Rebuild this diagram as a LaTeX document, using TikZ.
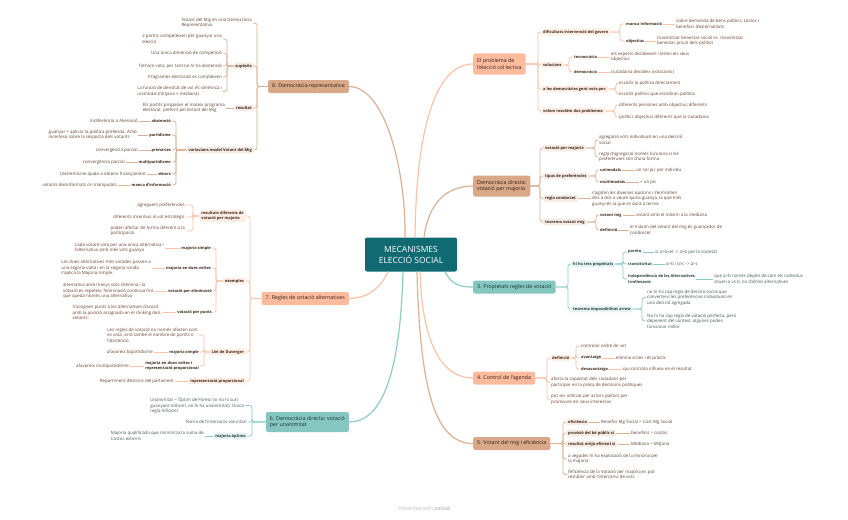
\documentclass[tikz,border=0pt]{standalone}
\usepackage{fontspec}
\setmainfont{Open Sans}
\definecolor{cen}{HTML}{0F6A72}
\definecolor{fS}{HTML}{FDBB9D}
\definecolor{fT}{HTML}{D8A888}
\definecolor{fG}{HTML}{85C7C0}
\definecolor{lnS}{HTML}{FBC2A7}
\definecolor{lnT}{HTML}{DBB196}
\definecolor{lnG}{HTML}{8FCBC5}
\definecolor{plS}{HTML}{FEEEE6}
\definecolor{plT}{HTML}{F6ECE5}
\definecolor{plG}{HTML}{E5F3F1}
\definecolor{lfS}{HTML}{6E3E30}
\definecolor{lfT}{HTML}{5E4436}
\definecolor{lfG}{HTML}{4A5656}
\definecolor{lbS}{HTML}{3B2417}
\definecolor{lbG}{HTML}{243A3A}
\definecolor{mtS}{HTML}{2E1E14}
\definecolor{mtG}{HTML}{17302F}
\definecolor{footc}{HTML}{BDBDBD}
\newcommand{\brk}[4]{\draw[#1] (#2) -- (#2 -| #3,0) |- (#4);}
\tikzset{
  base/.style={inner xsep=1pt, inner ysep=0.8pt, align=left, font=\fontsize{4.4}{5.5}\selectfont},
  leafS/.style={base, text=lfS},
  leafT/.style={base, text=lfT},
  leafG/.style={base, text=lfG},
  bl/.style={inner xsep=1pt, inner ysep=0.8pt, align=left, font=\fontsize{3.95}{5.2}\selectfont\bfseries},
  labS/.style={bl, text=lbS, fill=plS, rounded corners=1.5pt, inner xsep=2pt, inner ysep=1.5pt},
  labT/.style={bl, text=lbS, fill=plT, rounded corners=1.5pt, inner xsep=2pt, inner ysep=1.5pt},
  labG/.style={bl, text=lbG, fill=plG, rounded corners=1.5pt, inner xsep=2pt, inner ysep=1.5pt},
  lab3S/.style={bl, text=lbS},
  lab3T/.style={bl, text=lbS},
  lab3G/.style={bl, text=lbG},
  mainbox/.style={rounded corners=2pt, inner xsep=4pt, inner ysep=3pt, align=left, font=\fontsize{5.3}{6.6}\selectfont, minimum height=13pt},
  mainS/.style={mainbox, fill=fS, text=mtS},
  mainT/.style={mainbox, fill=fT, text=mtS},
  mainG/.style={mainbox, fill=fG, text=mtG},
  cS/.style={draw=lnS, line width=0.75pt, rounded corners=2.5pt},
  cT/.style={draw=lnT, line width=0.75pt, rounded corners=2.5pt},
  cG/.style={draw=lnG, line width=0.75pt, rounded corners=2.5pt},
  mcS/.style={draw=lnS, line width=1.2pt},
  mcT/.style={draw=lnT, line width=1.2pt},
  mcG/.style={draw=lnG, line width=1.2pt},
}
\begin{document}
\begin{tikzpicture}[x=1pt,y=-1pt]
\fill[white] (0,0) rectangle (848,519);
\useasboundingbox (0,0) rectangle (848,519);

% centre
\node[fill=cen, rounded corners=2pt, minimum width=92pt, minimum height=34pt, align=center,
  text=white, font=\fontsize{8.5}{11}\selectfont] (C) at (411,254.5) {MECANISMES\\ELECCIÓ SOCIAL};

% main branches
\node[mainS, anchor=west, minimum height=21pt] (b1) at (473,64) {El problema de\\l'elecció col·lectiva};
\node[mainT, anchor=west, minimum height=21pt] (b2) at (473,186) {Democràcia directa:\\votació per majoria};
\node[mainG, anchor=west] (b3) at (473,287) {3. Propietats regles de votació};
\node[mainS, anchor=west] (b4) at (473,378) {4. Control de l'agenda};
\node[mainT, anchor=west] (b5) at (473,443.5) {5. Votant del mig i eficiència};
\node[mainT, anchor=east] (b8) at (349,86.5) {8. Democràcia representativa};
\node[mainS, anchor=east] (b7) at (349,298.5) {7. Regles de votació alternatives};
\node[mainG, anchor=east, minimum height=20pt] (b6) at (349,422) {6. Democràcia directa: votació\\per unanimitat};

\draw[mcT] ([xshift=-6pt]C.north) .. controls (406,170) and (385,86.5) .. (b8.east);
\draw[mcS] ([xshift=4pt]C.north) .. controls (416,140) and (432,64) .. (b1.west);
\draw[mcT] ([xshift=13pt]C.north) .. controls (428,205) and (445,186) .. (b2.west);
\draw[mcG] ([xshift=34pt]C.south) .. controls (452,285) and (460,287) .. (b3.west);
\draw[mcS] ([xshift=-23pt]C.south) .. controls (380,290) and (365,298.5) .. (b7.east);
\draw[mcS] ([xshift=9pt]C.south) .. controls (422,340) and (440,378) .. (b4.west);
\draw[mcT] ([xshift=6pt]C.south) .. controls (420,390) and (435,443.5) .. (b5.west);
\draw[mcG] ([xshift=-8pt]C.south) .. controls (400,380) and (380,422) .. (b6.east);

% ---------- branch 1
\node[labS, anchor=west] (b1a) at (541,32) {dificultats intervenció del govern};
\node[lab3S, anchor=west] (b1a1) at (625,24) {manca informació};
\node[leafS, anchor=west] (b1a1x) at (675,24) {sobre demanda de béns públics, costos i\\beneficis d'externalitats};
\node[lab3S, anchor=west] (b1a2) at (625,41) {objectius};
\node[leafS, anchor=west] (b1a2x) at (656,41) {maximitzar benestar social vs. maximitzar\\benestar privat dels polítics};
\node[labS, anchor=west] (b1b) at (541,65) {solucions};
\node[lab3S, anchor=west] (b1b1) at (573,57) {tecnocràcia};
\node[leafS, anchor=west] (b1b1x) at (610,57) {els experts decideixen i tenen els seus\\objectius};
\node[lab3S, anchor=west] (b1b2) at (573,72) {democràcia};
\node[leafS, anchor=west] (b1b2x) at (610,72) {ciutadania decideix (votacions)};
\node[labS, anchor=west] (b1c) at (541,89) {a les democràcies gent vota per:};
\node[leafS, anchor=west] (b1c1) at (618,83) {escollir la política directament};
\node[leafS, anchor=west] (b1c2) at (618,94) {escollir polítics que escolliran política};
\node[labS, anchor=west] (b1d) at (541,111) {volem resoldre dos problemes:};
\node[leafS, anchor=west] (b1d1) at (618,105) {diferents persones amb objectius diferents};
\node[leafS, anchor=west] (b1d2) at (618,117) {polítics objectius diferents que la ciutadania};
\foreach \c in {b1a,b1b,b1c,b1d} {\brk{cS}{b1.east}{538}{\c.west}}
\foreach \c in {b1a1,b1a2} {\brk{cS}{b1a.east}{620}{\c.west}}
\foreach \c in {b1b1,b1b2} {\brk{cS}{b1b.east}{569}{\c.west}}
\foreach \c in {b1c1,b1c2} {\brk{cS}{b1c.east}{616}{\c.west}}
\foreach \c in {b1d1,b1d2} {\brk{cS}{b1d.east}{615}{\c.west}}
\draw[cS] (b1a1.east) -- (b1a1x.west);
\draw[cS] (b1a2.east) -- (b1a2x.west);
\draw[cS] (b1b1.east) -- (b1b1x.west);
\draw[cS] (b1b2.east) -- (b1b2x.west);

% ---------- branch 2
\node[labT, anchor=west] (b2a) at (543,148) {votació per majoria};
\node[leafT, anchor=west] (b2a1) at (598,140) {agregació vots individuals en una decisió\\social};
\node[leafT, anchor=west] (b2a2) at (598,157) {regla d'agregació només funciona si les\\preferències són d'una forma};
\node[labT, anchor=west] (b2b) at (543,176) {tipus de preferències};
\node[lab3T, anchor=west] (b2b1) at (599,170) {unimodals};
\node[leafT, anchor=west] (b2b1x) at (635,170) {un sol pic per individu};
\node[lab3T, anchor=west] (b2b2) at (599,182) {multimodals};
\node[leafT, anchor=west] (b2b2x) at (639,182) {+ un pic};
\node[labT, anchor=west] (b2c) at (543,198.5) {regla condorcet};
\node[leafT, anchor=west] (b2c1) at (591,198.5) {s'agafen les diverses opcions i s'enfronten\\dos a dos a veure quina guanya, la que més\\guanyi és la que es durà a terme};
\node[labT, anchor=west] (b2d) at (543,222) {teorema votant mig};
\node[lab3T, anchor=west] (b2d1) at (599,215) {votant mig};
\node[leafT, anchor=west] (b2d1x) at (635,215) {votant amb el màxim a la mediana};
\node[lab3T, anchor=west] (b2d2) at (599,230) {definició};
\node[leafT, anchor=west] (b2d2x) at (629,230) {el màxim del votant del mig és guanyador de\\condorcet};
\foreach \c in {b2a,b2b,b2c,b2d} {\brk{cT}{b2.east}{540}{\c.west}}
\foreach \c in {b2a1,b2a2} {\brk{cT}{b2a.east}{595}{\c.west}}
\foreach \c in {b2b1,b2b2} {\brk{cT}{b2b.east}{596}{\c.west}}
\foreach \c in {b2d1,b2d2} {\brk{cT}{b2d.east}{596}{\c.west}}
\draw[cT] (b2b1.east) -- (b2b1x.west);
\draw[cT] (b2b2.east) -- (b2b2x.west);
\draw[cT] (b2c.east) -- (b2c1.west);
\draw[cT] (b2d1.east) -- (b2d1x.west);
\draw[cT] (b2d2.east) -- (b2d2x.west);

% ---------- branch 3
\node[labG, anchor=west] (b3a) at (571,264) {hi ha tres propietats};
\node[lab3G, anchor=west] (b3a1) at (627,252) {pareto};
\node[leafG, anchor=west] (b3a1x) at (654,252) {si a>b>el -> a>b per la societat};
\node[lab3G, anchor=west] (b3a2) at (627,264) {transitivitat};
\node[leafG, anchor=west] (b3a2x) at (665,264) {a>b i b>c -> a>c};
\node[lab3G, anchor=west] (b3a3) at (627,279) {independència de les Alternatives\\Irrellevants};
\node[leafG, anchor=west] (b3a3x) at (713,279) {que a>b només depèn de com els individus\\situen a vs b, no d'altres alternatives};
\node[labG, anchor=west] (b3b) at (571,309) {teorema impossibilitat arrow};
\node[leafG, anchor=west] (b3b1) at (646,297.5) {no hi ha cap regla de decisió social que\\converteixi les preferències individuals en\\una decisió agregada};
\node[leafG, anchor=west] (b3b2) at (646,321) {No hi ha cap regla de votació perfecta, però\\depenent del context, algunes poden\\funcionar millor};
\foreach \c in {b3a,b3b} {\brk{cG}{b3.east}{568}{\c.west}}
\foreach \c in {b3a1,b3a2,b3a3} {\brk{cG}{b3a.east}{623}{\c.west}}
\foreach \c in {b3b1,b3b2} {\brk{cG}{b3b.east}{642}{\c.west}}
\draw[cG] (b3a1.east) -- (b3a1x.west);
\draw[cG] (b3a2.east) -- (b3a2x.west);
\draw[cG] (b3a3.east) -- (b3a3x.west);

% ---------- branch 4
\node[labS, anchor=west] (b4a) at (550,358) {definició};
\node[leafS, anchor=west] (b4a1) at (580,346) {controlar ordre de vot};
\node[lab3S, anchor=west] (b4a2) at (580,358) {avantatge};
\node[leafS, anchor=west] (b4a2x) at (615,358) {elimina cicles i és pràctic};
\node[lab3S, anchor=west] (b4a3) at (580,369) {desavantatge};
\node[leafS, anchor=west] (b4a3x) at (622,369) {qui controla influeix en el resultat};
\node[leafS, anchor=west] (b4b) at (550,382.5) {afecta la capacitat dels ciutadans per\\participar en la presa de decisions polítiques};
\node[leafS, anchor=west] (b4c) at (550,399.5) {pot ser utilitzat per actors polítics per\\promoure els seus interessos};
\foreach \c in {b4a,b4b,b4c} {\brk{cS}{b4.east}{547}{\c.west}}
\foreach \c in {b4a1,b4a2,b4a3} {\brk{cS}{b4a.east}{576}{\c.west}}
\draw[cS] (b4a2.east) -- (b4a2x.west);
\draw[cS] (b4a3.east) -- (b4a3x.west);

% ---------- branch 5
\node[labT, anchor=west] (b5a) at (566,422) {eficiència};
\node[leafT, anchor=west] (b5a1) at (600,422) {Benefici Mg Social = Cost Mg Social};
\node[labT, anchor=west] (b5b) at (566,433) {provisió del bé públic si};
\node[leafT, anchor=west] (b5b1) at (630,433) {beneficis > costos};
\node[labT, anchor=west] (b5c) at (566,444) {resultat mitjà eficient si};
\node[leafT, anchor=west] (b5c1) at (630,444) {Mediana = Mitjana};
\node[leafT, anchor=west] (b5d) at (567,459) {a vegades hi ha explotació de la minoria per\\la majoria};
\node[leafT, anchor=west] (b5e) at (567,474.5) {l'eficiència de la Votació per majoria es pot\\restablir amb l'intercanvi de vots};
\foreach \c in {b5a,b5b,b5c,b5d,b5e} {\brk{cT}{b5.east}{563}{\c.west}}
\draw[cT] (b5a.east) -- (b5a1.west);
\draw[cT] (b5b.east) -- (b5b1.west);
\draw[cT] (b5c.east) -- (b5c1.west);

% ---------- branch 8
\node[leafT, anchor=east] (b8a) at (253,23) {Votant del Mig en una Democràcia\\Representativa};
\node[labT, anchor=east] (b8b) at (254,66) {supòsits};
\node[leafT, anchor=east] (b8b1) at (223,39) {2 partits competeixen per guanyar una\\elecció};
\node[leafT, anchor=east] (b8b2) at (223,53) {Una única dimensió de competició};
\node[leafT, anchor=east] (b8b3) at (223,66) {Tothom vota, per tant no hi ha abstenció};
\node[leafT, anchor=east] (b8b4) at (223,77) {Programes electorals es compleixen};
\node[leafT, anchor=east] (b8b5) at (223,91.5) {La funció de densitat de vot és simètrica i\\unimodal (mitjana = mediana)};
\node[labT, anchor=east] (b8c) at (254,108) {resultat};
\node[leafT, anchor=east] (b8c1) at (226,108) {Els partits proposen el mateix programa\\electoral: preferit pel Votant del Mig};
\node[labT, anchor=east] (b8d) at (254,150) {variacions model Votant del Mig};
\node[lab3T, anchor=east] (b8d1) at (172,121) {abstenció};
\node[leafT, anchor=east] (b8d1x) at (139,121) {Indiferència o Alienació};
\node[lab3T, anchor=east] (b8d2) at (172,135) {partidisme};
\node[leafT, anchor=east] (b8d2x) at (138,135) {guanyar + aplicar la política preferida. Amb\\incertesa sobre la resposta dels votants};
\node[lab3T, anchor=east] (b8d3) at (172,150) {primàries};
\node[leafT, anchor=east] (b8d3x) at (139,150) {convergència parcial};
\node[lab3T, anchor=east] (b8d4) at (172,162) {multipartidisme};
\node[leafT, anchor=east] (b8d4x) at (126,162) {convergència parcial};
\node[lab3T, anchor=east] (b8d5) at (172,174) {diners};
\node[leafT, anchor=east] (b8d5x) at (147,174) {L'extremisme ajuda a obtenir finançament};
\node[lab3T, anchor=east] (b8d6) at (172,185) {manca d'informació};
\node[leafT, anchor=east] (b8d6x) at (118,185) {votants desinformats o/i manipulats};
\foreach \c in {b8a,b8b,b8c,b8d} {\brk{cT}{b8.west}{257}{\c.east}}
\foreach \c in {b8b1,b8b2,b8b3,b8b4,b8b5} {\brk{cT}{b8b.west}{227}{\c.east}}
\draw[cT] (b8c.west) -- (b8c1.east);
\foreach \c in {b8d1,b8d2,b8d3,b8d4,b8d5,b8d6} {\brk{cT}{b8d.west}{176}{\c.east}}
\foreach \c in {b8d1,b8d2,b8d3,b8d4,b8d5,b8d6} {\draw[cT] (\c.west) -- (\c x.east);}

% ---------- branch 7
\node[labS, anchor=east] (b7a) at (246,216) {resultats diferents de\\votació per majoria};
\node[leafS, anchor=east] (b7a1) at (186,205) {agreguem preferències};
\node[leafS, anchor=east] (b7a2) at (186,217) {diferents incentius al vot estratègic};
\node[leafS, anchor=east] (b7a3) at (186,231) {poden afectar de forma diferent a la\\participació};
\node[labS, anchor=east] (b7b) at (246,281) {exemples};
\node[lab3S, anchor=east] (b7b1) at (212,248) {majoria simple};
\node[leafS, anchor=east] (b7b1x) at (165,248) {Cada votant vota per una única alternativa i\\l'alternativa amb més vots guanya};
\node[lab3S, anchor=east] (b7b2) at (212,268) {majoria en dues voltes};
\node[leafS, anchor=east] (b7b2x) at (152,268) {Les dues alternatives més votades passen a\\una segona volta i en la segona ronda\\s'aplica la Majoria simple.};
\node[lab3S, anchor=east] (b7b3) at (213,291) {votació per eliminació};
\node[leafS, anchor=east] (b7b3x) at (155,291) {alternativa amb menys vots s'elimina i la\\votació es repeteix, l'eliminació continua fins\\que queda només una alternativa};
\node[lab3S, anchor=east] (b7b4) at (213,312.5) {votació per punts};
\node[leafS, anchor=east] (b7b4x) at (162,312.5) {S'assignen punts a les alternatives d'acord\\amb la posició assignada en el rànking dels\\votants.};
\node[labS, anchor=east] (b7c) at (246,352) {Llei de Duverger};
\node[leafS, anchor=east] (b7c1) at (199,335) {Les regles de votació no només afecten com\\es vota, sinó també el nombre de partits o\\l'abstenció};
\node[lab3S, anchor=east] (b7c2) at (200,352) {majoria simple};
\node[leafS, anchor=east] (b7c2x) at (154,352) {afavoreix bipartidisme};
\node[lab3S, anchor=east] (b7c3) at (200,366) {majoria en dues voltes i\\representació proporcional};
\node[leafS, anchor=east] (b7c3x) at (130,366) {afavoreix multipartidisme};
\node[labS, anchor=east] (b7d) at (246,381) {representació proporcional};
\node[leafS, anchor=east] (b7d1) at (175,381) {Repartiment d'escons del parlament};
\foreach \c in {b7a,b7b,b7c,b7d} {\brk{cS}{b7.west}{250}{\c.east}}
\foreach \c in {b7a1,b7a2,b7a3} {\brk{cS}{b7a.west}{193}{\c.east}}
\foreach \c in {b7b1,b7b2,b7b3,b7b4} {\brk{cS}{b7b.west}{216}{\c.east}}
\foreach \c in {b7b1,b7b2,b7b3,b7b4} {\draw[cS] (\c.west) -- (\c x.east);}
\foreach \c in {b7c1,b7c2,b7c3} {\brk{cS}{b7c.west}{204}{\c.east}}
\draw[cS] (b7c2.west) -- (b7c2x.east);
\draw[cS] (b7c3.west) -- (b7c3x.east);
\draw[cS] (b7d.west) -- (b7d1.east);

% ---------- branch 6
\node[leafG, anchor=east] (b6a) at (245,405.5) {Unanimitat = Òptim de Pareto (si no hi surt\\guanyant tothom, no hi ha unanimitat). Única\\regla l'eficient};
\node[leafG, anchor=east] (b6b) at (248,422) {Teoria de l'intercanvi voluntari};
\node[labG, anchor=east] (b6c) at (248,436) {majoria òptima};
\node[leafG, anchor=east] (b6c1) at (205,436) {Majoria qualificada que minimitza la suma de\\Costos externs};
\foreach \c in {b6a,b6b,b6c} {\brk{cG}{b6.west}{252}{\c.east}}
\draw[cG] (b6c.west) -- (b6c1.east);

% footer
\node[text=footc, font=\fontsize{5}{6}\selectfont] (foot) at (424,509) {Presented with \textbf{xmind}};
\end{tikzpicture}
\end{document}
